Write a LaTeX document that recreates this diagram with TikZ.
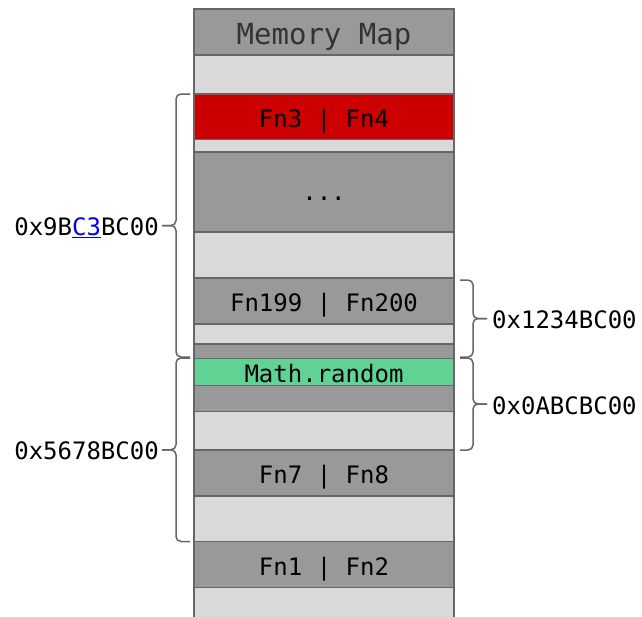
\documentclass[tikz,border=0pt]{standalone}
\usepackage{fontspec}
\newfontfamily\memfont{DejaVu Sans Mono}
\definecolor{rowdark}{HTML}{999999}
\definecolor{rowlight}{HTML}{D9D9D9}
\definecolor{rowred}{HTML}{CC0000}
\definecolor{rowgreen}{HTML}{60D394}
\definecolor{edgegray}{HTML}{666666}
\definecolor{titlegray}{HTML}{333333}
\definecolor{linkblue}{HTML}{0000EE}
\tikzset{
  cell/.style={draw=edgegray, line width=1.5pt, minimum width=260pt, inner sep=0pt,
    font=\memfont\fontsize{24}{28}\selectfont, text height=21.5pt, text depth=0pt},
  bracket/.style={draw=edgegray, line width=1.5pt, rounded corners=5pt},
  addr/.style={inner sep=0pt, font=\memfont\fontsize{24}{28}\selectfont}
}
% brace opening to the right (drawn left of the column): x of the ends, top y, bottom y, tip name
\newcommand\memBraceLeft[4]{%
  \coordinate (#4) at ({#1-28},{(#2+#3)/2});
  \draw[bracket] (#1,#2) -- ({#1-14},#2) -- ({#1-14},{(#2+#3)/2}) -- (#4);
  \draw[bracket] (#1,#3) -- ({#1-14},#3) -- ({#1-14},{(#2+#3)/2}) -- (#4);
}
% brace opening to the left (drawn right of the column)
\newcommand\memBraceRight[4]{%
  \coordinate (#4) at ({#1+27},{(#2+#3)/2});
  \draw[bracket] (#1,#2) -- ({#1+13},#2) -- ({#1+13},{(#2+#3)/2}) -- (#4);
  \draw[bracket] (#1,#3) -- ({#1+13},#3) -- ({#1+13},{(#2+#3)/2}) -- (#4);
}
\begin{document}
\begin{tikzpicture}[x=1pt,y=-1pt]
\clip (0,0) rectangle (642,616);

% memory column, top to bottom
\node[cell, fill=rowdark, minimum height=46pt, text=titlegray,
      font=\memfont\fontsize{29}{34}\selectfont, text height=24pt] (title) at (324,32) {Memory Map};
\node[cell, fill=rowlight, minimum height=39pt]   (gap1)   at (324,74.5) {};
\node[cell, fill=rowred, minimum height=45.5pt]   (fn34)   at (324,116.75) {Fn3 | Fn4};
\node[cell, fill=rowlight, minimum height=12.5pt, text height=0pt] (gap2) at (324,145.75) {};
\node[cell, fill=rowdark, minimum height=80pt, text height=17.5pt] (dots) at (324,192) {...};
\node[cell, fill=rowlight, minimum height=46pt]   (gap3)   at (324,255) {};
\node[cell, fill=rowdark, minimum height=46pt]    (fn199)  at (324,301) {Fn199 | Fn200};
\node[cell, fill=rowlight, minimum height=20pt, text height=0pt] (gap4) at (324,334) {};
\node[cell, fill=rowdark, minimum height=14.5pt, text height=0pt] (pad1) at (324,351.25) {};
\node[cell, fill=rowgreen, minimum height=27pt]   (rand)   at (324,372) {Math.random};
\node[cell, fill=rowdark, minimum height=26pt, text height=0pt] (pad2) at (324,398.5) {};
\node[cell, fill=rowlight, minimum height=38.5pt] (gap5)   at (324,430.75) {};
\node[cell, fill=rowdark, minimum height=46pt]    (fn78)   at (324,473) {Fn7 | Fn8};
\node[cell, fill=rowlight, minimum height=45.5pt] (gap6)   at (324,518.75) {};
\node[cell, fill=rowdark, minimum height=46pt]    (fn12)   at (324,564.5) {Fn1 | Fn2};
\node[cell, fill=rowlight, minimum height=52.5pt] (gap7)   at (324,613.75) {};

% address ranges on the left
\memBraceLeft{190}{94}{357}{tipA}
\memBraceLeft{190}{358}{541.5}{tipB}
\node[addr, anchor=base east] (addrA) at ([xshift=-3pt,yshift=-10pt]tipA)
  {0x9B\textcolor{linkblue}{\underline{C3}}BC00};
\node[addr, anchor=base east] (addrB) at ([xshift=-3pt,yshift=-10pt]tipB) {0x5678BC00};

% address ranges on the right
\memBraceRight{460}{280}{357}{tipC}
\memBraceRight{460}{358}{450}{tipD}
\node[addr, anchor=base west] (addrC) at ([xshift=5pt,yshift=-10pt]tipC) {0x1234BC00};
\node[addr, anchor=base west] (addrD) at ([xshift=5pt,yshift=-10pt]tipD) {0x0ABCBC00};
\end{tikzpicture}
\end{document}
